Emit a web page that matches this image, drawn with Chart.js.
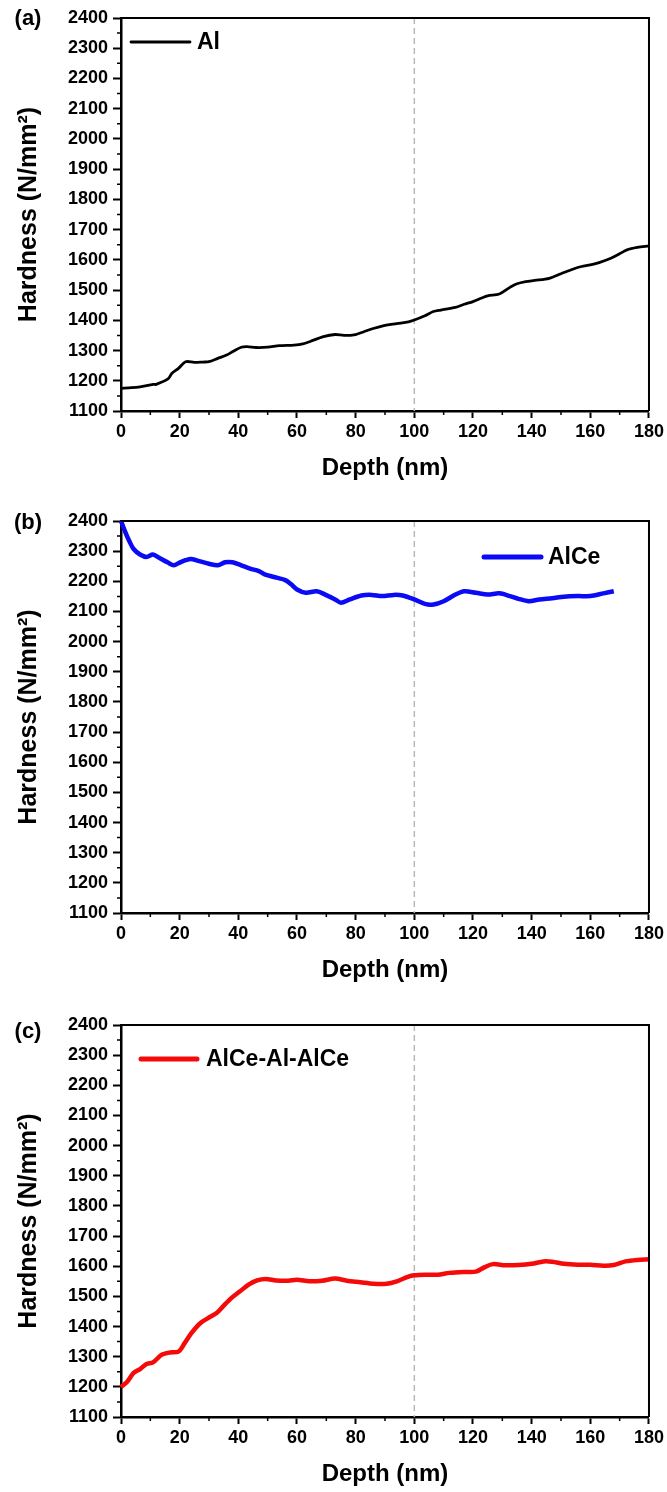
<!DOCTYPE html>
<html>
<head>
<meta charset="utf-8">
<script src="https://cdn.jsdelivr.net/npm/chart.js@4.4.0/dist/chart.umd.min.js"></script>
<style>
  body { margin: 0; background: #fff; }
  #wrap { position: relative; width: 667px; height: 1492px; }
  canvas { position: absolute; left: 0; }
</style>
</head>
<body>
<div id="wrap">
  <canvas id="chartA" width="667" height="485" style="top:0px"></canvas>
  <canvas id="chartB" width="667" height="502" style="top:485px"></canvas>
  <canvas id="chartC" width="667" height="504" style="top:987px"></canvas>
</div>
<script>
// depth (nm) / hardness (N/mm2)
var depthAl = [0, 3.6, 6.5, 11, 12, 16, 17.4, 19.6, 22, 25, 28, 30, 33, 36, 38, 41, 43, 46, 50, 54, 59, 62, 64.5, 69, 73, 76, 80, 83, 86, 89, 94, 98, 100, 103.6, 106.5, 109, 114, 117, 120, 123, 125, 129, 132.6, 135, 138, 141, 146, 150, 154, 157, 160, 163, 167, 170, 172.5, 176, 180];
var hardnessAl = [1175, 1177, 1180, 1188, 1188, 1206, 1225, 1241, 1263, 1261, 1262, 1263, 1274, 1285, 1296, 1311, 1313, 1310, 1311, 1316, 1318, 1322, 1330, 1346, 1353, 1350, 1353, 1363, 1373, 1381, 1389, 1395, 1401, 1415, 1429, 1434, 1443, 1453, 1462, 1474, 1481, 1487, 1509, 1521, 1528, 1532, 1539, 1554, 1569, 1578, 1583, 1591, 1605, 1620, 1633, 1641, 1646];

var depthAlCe = [0, 1.4, 2.9, 4.3, 6.5, 8.7, 10.9, 13, 16, 18, 20, 22, 24, 27, 30, 33, 35.5, 38, 41, 44, 47, 49, 53, 56, 58, 60, 63, 66.7, 69.6, 73, 75, 78, 82, 85.5, 89, 93, 96, 100, 103.6, 106.5, 110, 114, 117, 121, 125, 129, 132.6, 135.5, 139, 142.6, 147, 151, 155.8, 160, 164.5, 168];
var hardnessAlCe = [2400, 2365, 2332, 2307, 2289, 2281, 2289, 2278, 2262, 2253, 2262, 2270, 2274, 2266, 2258, 2253, 2263, 2263, 2253, 2242, 2234, 2223, 2212, 2204, 2190, 2173, 2162, 2167, 2156, 2140, 2129, 2140, 2153, 2155, 2151, 2155, 2153, 2140, 2125, 2123, 2134, 2156, 2167, 2162, 2156, 2160, 2151, 2142, 2134, 2140, 2144, 2149, 2151, 2151, 2160, 2167];

var depthTri = [0, 2.2, 4.3, 6.5, 8.7, 10.9, 13.8, 16.7, 19.6, 21.7, 24, 27, 29.7, 32.6, 34.8, 37.7, 40.6, 43.5, 46.4, 49.3, 52.9, 57, 60, 64.3, 68.6, 73, 77, 81.6, 86, 90.6, 94, 97.8, 100, 103.6, 108, 112, 117, 121, 124, 126.8, 131, 135.5, 140, 144, 147, 151, 155.8, 160, 164.5, 168, 172, 176, 180];
var hardnessTri = [1199, 1218, 1246, 1259, 1276, 1281, 1306, 1314, 1317, 1345, 1378, 1411, 1428, 1445, 1467, 1495, 1517, 1539, 1553, 1558, 1553, 1552, 1555, 1550, 1552, 1559, 1552, 1547, 1542, 1542, 1550, 1565, 1570, 1572, 1572, 1578, 1581, 1582, 1597, 1607, 1603, 1604, 1608, 1616, 1615, 1608, 1605, 1605, 1602, 1604, 1616, 1621, 1623];

var xMin = 0, xMax = 180, xStep = 20;
var yMin = 1100, yMax = 2400, yStep = 100;
var markDepth = 100;

var fontFamily = "'Liberation Sans', Arial, sans-serif";

var decoPlugin = {
  id: 'panelDeco',
  beforeDatasetsDraw(chart) {
    const ctx = chart.ctx, a = chart.chartArea;
    const px = chart.scales.x.getPixelForValue(markDepth);
    ctx.save();
    ctx.strokeStyle = '#b8b8b8';
    ctx.lineWidth = 1.5;
    ctx.setLineDash([6, 4]);
    ctx.beginPath();
    ctx.moveTo(px, a.top);
    ctx.lineTo(px, a.bottom);
    ctx.stroke();
    ctx.restore();
  },
  afterDraw(chart, args, opts) {
    const ctx = chart.ctx, a = chart.chartArea;
    const x = chart.scales.x, y = chart.scales.y;
    ctx.save();
    // top and right frame
    ctx.strokeStyle = '#000';
    ctx.lineWidth = 2;
    ctx.beginPath();
    ctx.moveTo(a.left, a.top);
    ctx.lineTo(a.right, a.top);
    ctx.lineTo(a.right, a.bottom);
    ctx.stroke();
    // minor ticks
    ctx.lineWidth = 1.5;
    ctx.beginPath();
    for (let v = yMin + yStep / 2; v < yMax; v += yStep) {
      const py = y.getPixelForValue(v);
      ctx.moveTo(a.left - 4, py);
      ctx.lineTo(a.left, py);
    }
    for (let v = xMin + xStep / 2; v < xMax; v += xStep) {
      const px = x.getPixelForValue(v);
      ctx.moveTo(px, a.bottom);
      ctx.lineTo(px, a.bottom + 4);
    }
    ctx.stroke();
    // legend
    const ds = chart.data.datasets[0];
    ctx.strokeStyle = ds.borderColor;
    ctx.lineWidth = opts.legendWidth;
    ctx.lineCap = 'round';
    ctx.beginPath();
    ctx.moveTo(opts.legendX1, opts.legendY);
    ctx.lineTo(opts.legendX2, opts.legendY);
    ctx.stroke();
    ctx.fillStyle = '#000';
    ctx.font = 'bold 23px ' + fontFamily;
    ctx.textAlign = 'left';
    ctx.textBaseline = 'middle';
    ctx.fillText(ds.label, opts.legendTextX, opts.legendY + 1);
    // panel tag
    ctx.font = 'bold 22px ' + fontFamily;
    ctx.textAlign = 'center';
    ctx.fillText(opts.tag, 28, opts.tagY);
    ctx.restore();
  }
};

function makeChart(id, label, depth, hardness, color, lineWidth, padTop, deco) {
  const points = depth.map((d, i) => ({ x: d, y: hardness[i] }));
  const tickFont = { family: fontFamily, size: 18, weight: 'bold' };
  const titleFont = { family: fontFamily, size: 24, weight: 'bold' };
  return new Chart(document.getElementById(id), {
    type: 'line',
    data: {
      datasets: [{
        label: label,
        data: points,
        borderColor: color,
        borderWidth: lineWidth,
        pointRadius: 0,
        tension: 0.3,
        fill: false,
        clip: 6
      }]
    },
    options: {
      responsive: false,
      animation: false,
      events: [],
      layout: { padding: { top: padTop, right: 15, bottom: 2, left: 0 } },
      plugins: {
        legend: { display: false },
        tooltip: { enabled: false },
        panelDeco: deco
      },
      scales: {
        x: {
          type: 'linear',
          min: xMin,
          max: xMax,
          afterFit: (s) => { s.height = 72; },
          border: { color: '#000', width: 2.5 },
          grid: { drawOnChartArea: false, drawTicks: true, tickLength: 7, tickWidth: 2, tickColor: '#000' },
          ticks: { stepSize: xStep, autoSkip: false, maxRotation: 0, color: '#000', font: tickFont, padding: 3,
                   callback: (v) => String(v) },
          title: { display: true, text: 'Depth (nm)', color: '#000', font: titleFont, padding: { top: 0, bottom: 0 } }
        },
        y: {
          min: yMin,
          max: yMax,
          afterFit: (s) => { s.width = 121; },
          border: { color: '#000', width: 2.5 },
          grid: { drawOnChartArea: false, drawTicks: true, tickLength: 8, tickWidth: 2, tickColor: '#000' },
          ticks: { stepSize: yStep, autoSkip: false, color: '#000', font: tickFont, padding: 5,
                   callback: (v) => String(v) },
          title: { display: true, text: 'Hardness (N/mm²)', color: '#000', font: { family: fontFamily, size: 25, weight: 'bold' }, padding: { top: 14, bottom: 0 } }
        }
      }
    },
    plugins: [decoPlugin]
  });
}

makeChart('chartA', 'Al', depthAl, hardnessAl, '#000000', 2.8, 18,
  { tag: '(a)', tagY: 19, legendX1: 131, legendX2: 190, legendY: 42, legendWidth: 2.8, legendTextX: 197 });
makeChart('chartB', 'AlCe', depthAlCe, hardnessAlCe, '#0a0af5', 4.5, 36,
  { tag: '(b)', tagY: 38, legendX1: 484, legendX2: 541, legendY: 72, legendWidth: 5, legendTextX: 548 });
makeChart('chartC', 'AlCe-Al-AlCe', depthTri, hardnessTri, '#f50a0a', 4.5, 38,
  { tag: '(c)', tagY: 45, legendX1: 141, legendX2: 197, legendY: 72, legendWidth: 5, legendTextX: 206 });
</script>
</body>
</html>
